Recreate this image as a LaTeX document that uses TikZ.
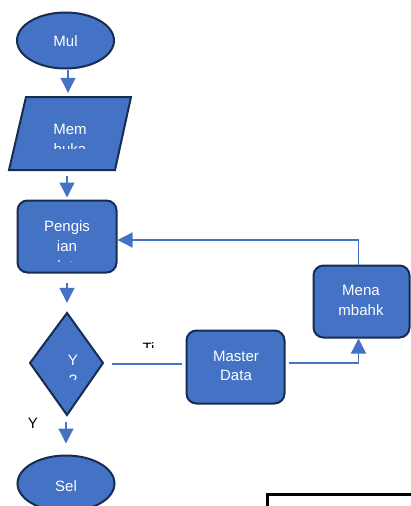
\documentclass[tikz,border=0pt]{standalone}
\usepackage{fontspec}
\setmainfont{Liberation Sans}
\usetikzlibrary{arrows.meta,shapes.geometric,calc}
\definecolor{fillblue}{HTML}{4472C4}
\definecolor{edgeblue}{HTML}{172C51}
\definecolor{connblue}{HTML}{4472C4}
\begin{document}
\begin{tikzpicture}[x=1pt,y=-1pt,
  boxst/.style={draw=edgeblue,fill=fillblue,line width=2pt,inner sep=0pt},
  term/.style={boxst,ellipse,minimum width=97pt,minimum height=56pt},
  proc/.style={boxst,rectangle,rounded corners=10pt},
  anchorbox/.style={rectangle,inner sep=0pt},
  lbl/.style={text=white,font=\fontsize{15}{20}\selectfont,inner sep=0pt,anchor=base},
  blk/.style={text=black,font=\fontsize{15}{20}\selectfont,inner sep=0pt,anchor=base},
  conn/.style={draw=connblue,line width=1.3pt},
  arr/.style={conn,-{Triangle[length=15pt,width=15pt]}}]
\useasboundingbox (0,0) rectangle (411,506);
\clip (0,0) rectangle (411,506);

% Start
\node[term] (mul) at (65.5,40.5) {};
\node[lbl] (mult) at (65.5,46) {Mul};

% Parallelogram
\filldraw[draw=edgeblue,fill=fillblue,line width=2pt] (26,97) -- (131,97) -- (115,170) -- (9,170) -- cycle;
\node[anchorbox,minimum width=100pt,minimum height=73pt] (mem) at (68,133.5) {};
\begin{scope}
  \clip (0,97) rectangle (140,148.5);
  \node[lbl] (mem1) at (70,134.5) {Mem};
  \node[lbl] (mem2) at (70,154.5) {buka};
\end{scope}

% Pengisian
\node[proc,minimum width=99pt,minimum height=72pt] (pg) at (67,236.5) {};
\begin{scope}
  \clip (0,200) rectangle (140,261.5);
  \node[lbl] (pg1) at (67,231) {Pengis};
  \node[lbl] (pg2) at (67,251) {ian};
  \node[lbl] (pg3) at (67,271) {data};
\end{scope}

% Decision
\filldraw[draw=edgeblue,fill=fillblue,line width=2pt] (67,313) -- (103,363) -- (67,415) -- (30,363) -- cycle;
\node[anchorbox,minimum width=73pt,minimum height=102pt] (dia) at (67,364) {};
\begin{scope}
  \clip (0,313) rectangle (140,379);
  \node[lbl] (dia1) at (73,365) {Y};
  \node[lbl] (dia2) at (73,385) {?};
\end{scope}

% End
\node[term] (sel) at (66,483.5) {};
\node[lbl] (selt) at (66,491) {Sel};

% Master Data
\node[proc,minimum width=98pt,minimum height=73pt] (md) at (235.5,367) {};
\node[lbl] (md1) at (236,361) {Master};
\node[lbl] (md2) at (236,380) {Data};

% Menambahkan
\node[proc,minimum width=96pt,minimum height=72pt] (mm) at (361.5,301.5) {};
\node[lbl] (mm1) at (361,295) {Mena};
\node[lbl] (mm2) at (361,315) {mbahk};

% labels
\node[blk] (ylab) at (33,428.5) {Y};
\begin{scope}
  \clip (130,330) rectangle (170,347);
  \node[blk] (tlab) at (148.5,353) {Ti};
\end{scope}

% bottom-right box
\node[draw=black,line width=2.5pt,minimum width=170pt,minimum height=40pt,anchor=north west,inner sep=0pt] (box) at (266,493) {};

% connectors
\draw[arr,shorten >=4pt] (mul.south -| mem.north) -- (mem.north);
\draw[arr,shorten <=6pt,shorten >=2pt] (mem.south -| pg.north) -- (pg.north);
\draw[arr,shorten <=9pt,shorten >=10pt] (pg.south) -- (dia.north);
\draw[arr,shorten <=7pt,shorten >=11pt] (dia.south -| sel.north) -- (sel.north);
\draw[conn,shorten <=8pt,shorten >=4pt] (dia.east) -- (dia.east -| md.west);
\draw[arr,shorten <=3pt] ([yshift=4pt]md.east) -| ([xshift=-3pt]mm.south);
\draw[arr] ([xshift=-3pt]mm.north) |- ([yshift=-3.5pt]pg.east);
\end{tikzpicture}
\end{document}
